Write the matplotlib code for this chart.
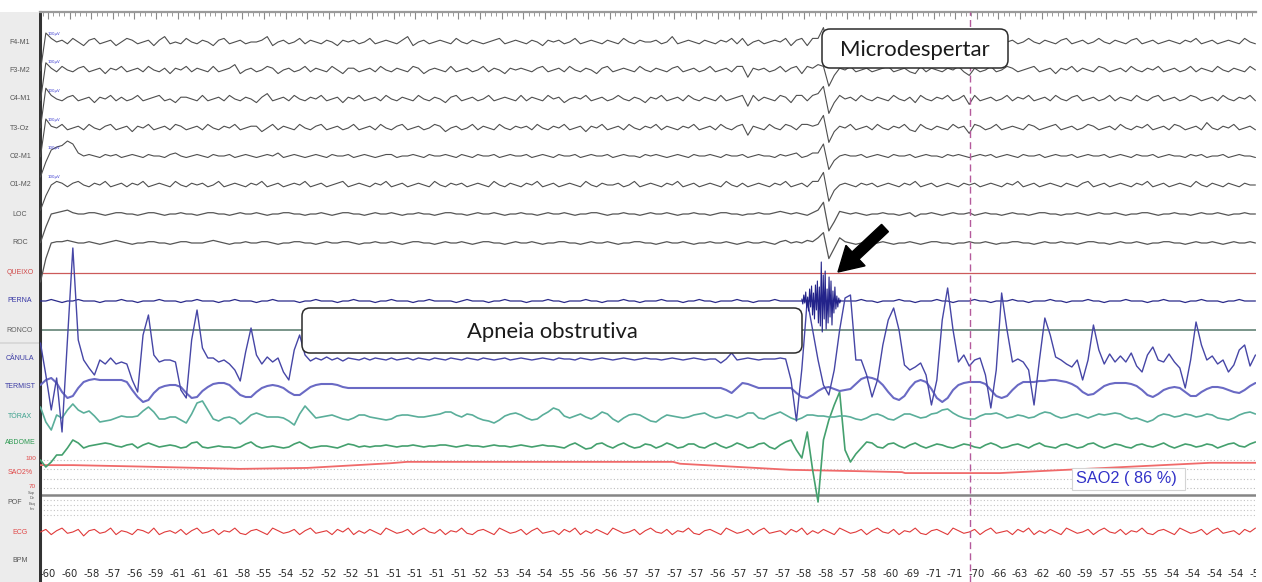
import numpy as np
import matplotlib
matplotlib.use("Agg")
import matplotlib.pyplot as plt
from matplotlib.patches import FancyBboxPatch, FancyArrow, Rectangle
from matplotlib.ticker import MultipleLocator

# ---------------------------------------------------------------------------
# Sampled traces: one value every DT seconds starting at T0 (deflection, px-like
# units, positive = upwards from the channel baseline)
# ---------------------------------------------------------------------------
T0 = -0.35
DT = 0.25

f4_m1 = [
    -16, 5, 2, 0, 1, -1, 2, 0, -2, 1,
    2, -1, 0, 1, -2, 0, 2, 1, -1, 0,
    1, -2, 1, 3, -1, 0, -1, 2, 0, -1,
    1, 0, -2, 1, 2, -1, 0, 1, -1, 0,
    0, 1, 3, -2, 0, 1, -1, 0, 2, -1,
    1, 0, -1, 1, 0, -2, 1, 0, 1, -1,
    0, 2, -1, 0, 1, 0, -1, 1, 3, -2,
    0, 1, -1, 0, 1, 0, -1, 2, 0, -1,
    1, 0, -1, 0, 1, 2, -1, 0, 1, 0,
    -1, 1, 0, -2, 1, 0, 1, -1, 0, 2,
    -1, 0, 1, 0, -1, 1, 0, -1, 2, 0,
    -1, 1, 0, 0, 1, -1, 0, 3, -1, 0,
    1, 0, -1, 1, 0, -1, 1, 0, 2, -1,
    2, -2, 0, 1, -1, 0, 1, 0, 2, -2,
    1, 2, -2, 2, 2, 8, -6, -2, 1, 0,
    1, -1, 0, 1, -1, 2, 0, -1, 1, 0,
    -1, 1, 0, 2, -1, 0, 1, -1, 0, 1,
    0, -1, 2, 0, -1, 1, 0, -2, 1, 0,
    1, -1, 0, 2, 0, -1, 1, 0, -1, 1,
    2, -1, 0, 1, -1, 0, 2, 0, -1, 1,
    0, -1, 1, 2, -1, 0, 1, -1, 0, 1,
    0, -1, 1, 0, 2, -1, 0, 1, -1, 0,
    1, 0, -1, 2, 0, -1]

f3_m2 = [
    -17, 4, 1, -1, 2, 0, -1, 1, 2, -1,
    0, 1, -2, 1, 0, 2, -1, 0, 1, -1,
    2, 0, -1, 1, -2, 1, 0, 2, -1, 1,
    0, -1, 2, -1, 0, 1, 3, -2, 0, 1,
    -1, 0, 2, 1, -2, 0, 1, -1, 0, 2,
    -1, 1, 0, -1, 2, 0, -2, 1, 1, -1,
    0, 1, -1, 2, 0, -1, 1, 0, -1, 2,
    1, -2, 0, 1, 0, -1, 2, -1, 0, 1,
    -1, 0, 2, -1, 1, 0, -2, 1, 0, 1,
    0, -1, 1, 2, -1, 0, 1, -1, 2, 0,
    -1, 1, 0, -2, 1, 2, -1, 0, 1, 0,
    -1, 2, 0, -1, 1, 0, -1, 1, 2, -1,
    0, 1, -1, 0, 2, -1, 0, 1, -1, 2,
    2, -4, 1, 0, 1, -1, 0, 2, -1, 1,
    2, -2, 2, 1, 3, 2, -9, -3, 1, 0,
    2, -1, 0, 1, -1, 0, 1, 2, -1, 0,
    1, -1, -2, 2, -1, 1, 0, -1, 1, 0,
    2, -1, -3, 1, -1, 0, 2, -1, 0, 2,
    1, -1, 0, 1, 2, -1, 0, 1, -2, 1,
    0, 2, -1, 1, 0, -1, 2, 1, -1, 0,
    1, -1, 2, 0, -1, 1, 0, 2, -1, 0,
    1, -1, 0, 2, -1, 1, 0, -1, 2, 0,
    -1, 1, 0, -1, 2, 0]

c4_m1 = [
    -16, 6, 2, 0, -1, 1, 2, -1, 0, 1,
    -2, 1, 0, 2, -1, 1, -1, 0, 2, -1,
    0, 1, 2, -1, 0, -2, 1, 1, 0, -1,
    2, -1, 0, 1, -1, 2, 0, -1, 1, 0,
    -2, 1, 3, -1, 0, 1, -1, 2, 0, -1,
    1, 0, 2, -1, 0, 1, -2, 1, 0, 2,
    -1, 0, 1, -1, 2, 0, -1, 1, 0, -1,
    2, 0, -1, 1, 0, -2, 1, 2, -1, 0,
    1, -1, 0, 2, -1, 0, 1, 0, -1, 2,
    -1, 1, 0, -1, 2, 0, 1, -2, 0, 1,
    0, 2, -1, 0, 1, -1, 0, 2, 0, -1,
    1, 0, -2, 1, 0, 2, -1, 0, 1, -1,
    2, 0, -1, 1, 0, -1, 2, -1, 0, 1,
    2, -4, 2, -1, 1, 0, -1, 2, 1, -2,
    2, 2, -1, 2, 3, 7, -8, -2, 2, 0,
    1, -1, 2, 0, -1, 1, 0, -1, 2, 0,
    -1, 1, -2, 2, 0, -1, 1, 0, 2, -1,
    0, 2, -3, 2, -1, 0, 1, -1, 0, 2,
    -1, 1, 0, 2, -1, 0, 1, -1, 2, 0,
    -1, 1, 2, -1, 0, 1, -1, 0, 2, -1,
    1, 0, -1, 2, 0, -1, 1, 2, -1, 0,
    1, -1, 0, 2, 1, -1, 0, 1, -1, 2,
    0, -1, 1, 0, 2, -1]

t3_oz = [
    -16, 5, 1, 0, 2, -1, 0, 1, -1, 2,
    0, -1, 1, 2, -1, 0, 1, -2, 1, 0,
    2, -1, 0, 1, -1, 2, 1, -1, 0, 1,
    -1, 2, 0, -1, 1, 0, 2, -1, 0, 1,
    1, -2, 0, 2, -1, 1, 0, -1, 2, 0,
    -1, 1, 2, -1, 0, 1, -1, 0, 2, -1,
    0, 1, -1, 2, 0, -1, 1, 2, -1, 0,
    1, -1, 0, 2, 1, -2, 0, 1, -1, 0,
    2, -1, 1, 0, -1, 2, 0, -1, 1, 0,
    1, -1, 2, 0, -1, 1, 0, 2, -1, 0,
    1, -2, 1, 0, 2, -1, 0, 1, -1, 2,
    0, -1, 1, 0, 2, -1, 1, 0, -1, 1,
    0, 2, -1, 0, 1, -1, 2, 0, -1, 1,
    2, -4, 1, 0, -1, 2, 0, -1, 2, 1,
    -1, 2, 2, 1, 2, 7, -8, -2, 1, 0,
    2, -1, 0, 1, -1, 2, 0, -1, 1, 0,
    2, -1, -2, 2, 0, -1, 1, 0, -1, 2,
    0, 1, -3, 2, 1, -1, 0, 2, -1, 0,
    1, 0, -1, 2, 1, -1, 0, 1, 2, -1,
    0, 1, -1, 0, 2, 1, -1, 0, 1, -1,
    2, 0, -1, 1, 0, 2, -1, 0, 1, -1,
    2, 1, -1, 0, 1, -1, 3, 0, -1, 1,
    0, 2, -1, 0, 1, -1]

o2_m1 = [
    -14, -4, 4, 6, 7, 10, 8, 2, 0, 1,
    0, -1, 1, 0, 1, -1, 0, 1, 0, -1,
    1, 0, 0, -1, 1, 2, 0, -1, 0, 1,
    0, -1, 1, 0, 0, 1, -1, 0, 1, 0,
    -1, 0, 1, 0, 2, -1, 0, 1, 0, -1,
    0, 1, 0, -1, 1, 0, 0, 1, -1, 0,
    1, 0, -1, 0, 1, 1, -1, 0, 0, 1,
    0, -1, 1, 0, 0, 1, 0, -1, 1, 0,
    -1, 1, 0, 0, 1, -1, 0, 1, 0, 0,
    1, -1, 0, 1, 0, -1, 1, 0, 0, 1,
    -1, 0, 1, 0, 0, 1, -1, 0, 1, 0,
    0, -1, 1, 0, 1, 0, -1, 0, 1, 0,
    -1, 1, 0, 0, 1, 0, -1, 1, 0, 0,
    1, -1, 0, 1, 0, 0, -1, 1, 0, 1,
    2, -1, 0, 2, 2, 8, -9, -3, 0, 1,
    0, 0, 1, -1, 0, 1, 0, -1, 1, 0,
    0, 1, -1, 0, 1, 0, 0, -1, 1, 0,
    1, 0, -1, 0, 1, 0, 1, -1, 0, 1,
    0, -1, 1, 0, 0, 1, -1, 0, 1, 0,
    0, 1, -1, 0, 1, 0, 0, 1, -1, 0,
    1, 0, -1, 1, 0, 0, 1, -1, 0, 1,
    0, 0, -1, 1, 0, 1, -1, 0, 0, 1,
    -1, 0, 1, 0, 0, -1]

o1_m2 = [
    -14, -6, 0, 2, 1, -1, 1, 2, 0, -1,
    1, 0, 2, -1, 0, 1, -1, 1, 0, 2,
    -1, 0, 1, 0, -1, 2, 0, -1, 1, 0,
    1, -1, 0, 2, -1, 0, 1, 0, -1, 1,
    0, 2, -1, 0, 1, -1, 0, 1, 0, 2,
    -1, 0, 1, -1, 0, 1, 2, -1, 0, 1,
    0, -1, 1, 0, 2, -1, 0, 1, -1, 0,
    1, 0, -1, 2, 0, -1, 1, 0, 1, -1,
    0, 1, 0, -1, 2, 0, -1, 1, 0, -1,
    1, 0, 2, -1, 0, 1, -1, 0, 1, 0,
    -1, 2, 0, -1, 1, 0, 0, 1, -1, 0,
    2, -1, 0, 1, 0, -1, 1, 0, 2, -1,
    0, 1, -1, 0, 1, 0, -1, 2, 0, -1,
    1, -1, 0, 1, 0, -1, 1, 0, 2, -1,
    0, 1, -1, 2, 2, 7, -9, -3, 0, 1,
    0, -1, 1, 0, 1, -1, 0, 1, 0, -1,
    1, 0, 2, -1, 0, 1, -1, 0, 1, 0,
    -1, 1, 0, 1, -1, 0, 1, 0, -1, 1,
    0, 2, -1, 0, 1, -1, 0, 1, 0, -1,
    1, 0, -1, 1, 2, -1, 0, 1, -1, 0,
    1, 0, -1, 1, 0, 2, -1, 0, 1, -1,
    0, 1, 0, -1, 2, 0, -1, 1, 0, -1,
    1, 0, -1, 1, 0, 0]

loc = [
    -22, -10, 0, 1, 2, 3, 1, 0, 0, 1,
    1, 0, -1, 0, 1, 1, 0, 0, -1, 0,
    1, 1, 0, -1, 0, 0, 1, 0, 0, -1,
    0, 1, 1, 0, 0, -1, 0, 1, 0, 0,
    1, 0, -1, 0, 0, 1, 1, 0, 0, -1,
    0, 0, 1, 0, -1, 0, 1, 1, 0, 0,
    -1, 0, 1, 0, 0, 1, 0, -1, 0, 0,
    1, 0, 0, -1, 0, 1, 1, 0, 0, -1,
    0, 1, 0, 0, 1, 0, -1, 0, 0, 1,
    0, 0, -1, 0, 1, 0, 0, 1, 0, -1,
    0, 0, 1, 1, 0, -1, 0, 0, 1, 0,
    0, -1, 0, 1, 0, 0, 1, 0, -1, 0,
    0, 1, 0, 0, -1, 0, 1, 1, 0, 0,
    -1, 0, 0, 1, 0, 0, 1, 2, 1, 0,
    1, 0, -1, 1, 3, 9, -13, -6, 2, 1,
    0, 1, 0, -1, 0, 0, 1, 0, 0, -1,
    0, 1, -2, 0, 0, 1, 0, -1, 0, 1,
    0, 0, 1, -1, 0, 1, 0, 0, -1, 0,
    1, 0, 0, -1, 0, 1, 1, 0, 0, -1,
    0, 0, 1, 0, -1, 0, 1, 0, 0, 1,
    0, -1, 0, 0, 1, 1, 0, -1, 0, 0,
    1, 0, 0, -1, 0, 1, 0, 0, 1, 0,
    -1, 0, 0, 1, 0, 0]

roc = [
    -30, -12, 0, 1, 1, 2, 1, 0, 0, 1,
    0, -1, 0, 1, 2, 1, 0, -1, 0, 0,
    1, 1, 0, 0, -1, 0, 1, 1, 0, 0,
    0, 1, 2, 1, 0, -1, 0, 0, 1, 0,
    0, 1, 1, 0, -1, 0, 0, 1, 1, 0,
    0, -1, 0, 1, 0, 0, 1, 1, 0, -1,
    0, 0, 1, 0, 0, 1, 0, -1, 0, 1,
    1, 0, 0, -1, 0, 1, 0, 0, 1, 0,
    -1, 0, 1, 1, 0, 0, -1, 0, 1, 0,
    0, 1, 0, -1, 0, 0, 1, 1, 0, 0,
    -1, 0, 1, 0, 0, 1, 0, -1, 0, 0,
    1, 1, 0, 0, -1, 0, 1, 0, 0, 1,
    0, -1, 0, 0, 1, 0, 0, 1, 0, -1,
    0, 1, 0, 0, 1, 0, -1, 1, 2, 0,
    1, 0, 2, 1, 4, 8, -12, -4, 4, 1,
    0, -1, 0, 1, 0, 0, 1, 0, -1, 0,
    0, 1, 0, -1, 0, 1, 1, 0, 0, -1,
    0, 0, 1, 0, 0, 1, 0, -1, 0, 0,
    1, 1, 0, 0, -1, 0, 1, 0, 0, 1,
    0, 0, -1, 0, 1, 1, 0, 0, -1, 0,
    1, 0, 0, 1, 0, -1, 0, 0, 1, 1,
    0, 0, -1, 0, 1, 0, 0, 1, 0, -1,
    0, 1, 0, 0, 1, 0]

perna = [
    0, 0, 1, 0, -1, 0, 0, 1, 0, 0,
    0, -1, 0, 0, 0, 1, 0, 0, -1, 0,
    0, 0, 1, 0, 0, 0, -1, 0, 0, 1,
    0, 0, 0, -1, 0, 0, 1, 0, 0, 0,
    -1, 0, 0, 1, 0, 0, 0, 0, -1, 0,
    0, 1, 0, 0, 0, -1, 0, 0, 1, 0,
    0, 0, -1, 0, 0, 1, 0, 0, 0, -1,
    0, 0, 1, 0, 0, 0, 0, -1, 0, 1,
    0, 0, 0, -1, 0, 0, 1, 0, 0, 0,
    -1, 0, 0, 0, 1, 0, 0, -1, 0, 0,
    0, 1, 0, 0, -1, 0, 0, 0, 1, 0,
    0, -1, 0, 0, 0, 1, 0, 0, 0, -1,
    0, 0, 1, 0, 0, -1, 0, 0, 0, 1,
    0, 0, -1, 0, 0, 0, 1, 0, 0, 0,
    0, 0, 0, 0, 0, 0, 0, 0, 0, 0,
    0, 0, 1, 0, 0, -1, 0, 0, 0, 1,
    0, 0, -1, 0, 0, 0, 1, 0, 0, -1,
    0, 0, 0, 1, 0, 0, -1, 0, 0, 0,
    1, 0, 0, -1, 0, 0, 0, 1, 0, 0,
    -1, 0, 0, 0, 1, 0, 0, -1, 0, 0,
    0, 1, 0, 0, 0, -1, 0, 0, 1, 0,
    0, 0, -1, 0, 0, 1, 0, 0, 0, -1,
    0, 0, 1, 0, 0, 0]

# leg EMG burst during the arousal, finer sampling
BURST_T0 = 34.9
BURST_DT = 0.045
perna_burst = [2, -3, 6, -2, 9, -7, 4, -10, 12, -6, 15, -14, 8, -18, 16,
               -9, 20, -22, 14, -25, 39, -31, 26, -18, 30, -28, 12, -22, 24,
               -16, 20, -24, 10, -12, 14, -8, 5, -6, 3, -2, 1]

canula = [
    16, -16, -51, -19, -73, 19, 111, 19, -1, -9,
    -16, -1, -5, 1, -5, -3, -5, -21, -33, 24,
    44, 4, -3, -1, -1, -3, -31, -39, 19, 49,
    11, 1, 1, -3, -1, -5, -11, -22, 7, 31,
    4, -5, 2, -3, 1, -13, -21, 9, 24, 4,
    -2, 1, -1, 2, -1, 1, -2, 1, 0, -1,
    1, -1, 1, 0, -1, 1, -1, 0, 1, -1,
    1, 0, -1, 1, 0, -1, 1, 0, -1, 1,
    0, -1, 1, 0, -1, 0, 1, -1, 0, 1,
    0, -1, 0, 1, 0, -1, 1, 0, 0, -1,
    1, 0, -1, 0, 1, 0, -1, 0, 1, 0,
    -1, 0, 1, 0, 0, -1, 0, 1, 0, -1,
    0, 1, 0, -1, 0, 0, -4, 0, 6, -1,
    0, 1, 0, -1, 0, 0, 0, 1, 0, -21,
    -62, -10, 59, 29, -1, -26, -36, -11, 29, 61,
    64, -1, -1, -16, -38, -21, 14, 39, 51, 29,
    -6, -11, -8, -4, -16, -46, -21, 39, 71, 29,
    -3, 4, -7, -1, 1, -16, -49, -11, 66, 29,
    -3, 0, -3, -11, -46, -1, 41, 24, 2, -1,
    -5, -8, -1, -21, -1, 34, 9, -5, 5, -3,
    3, -3, 6, -7, -13, 4, 12, -1, -3, 5,
    -3, -9, -29, -1, 37, 14, -1, 3, -5, -1,
    -13, -6, 9, 14, -7, 4]

termist = [
    3, 8, 10, 5, -4, -10, -8, 0, 6, 8,
    9, 8, 8, 8, 8, 8, 6, -2, -9, -14,
    -12, -5, 0, 2, 3, 3, 1, -5, -10, -9,
    -3, 1, 4, 5, 5, 3, -2, -7, -9, -9,
    -4, 0, 2, 3, 2, 0, -4, -7, -7, -3,
    1, 3, 4, 4, 4, 3, 1, 0, 0, 0,
    0, 0, 0, 0, 0, 0, 0, 0, 0, 0,
    0, 0, 0, 0, 0, 0, 0, 0, 0, 0,
    0, 0, 0, 0, 0, 0, 0, 0, 0, 0,
    0, 0, 0, 0, 0, 0, 0, 0, 0, 0,
    0, 0, 0, 0, 0, 0, 0, 0, 0, 0,
    0, 0, 0, 0, 0, 0, 0, 0, 0, 0,
    0, 0, 0, 0, 0, 0, 0, -2, -5, 0,
    5, 4, 2, 0, 0, 0, 0, 0, 0, 0,
    -5, -9, -10, -7, -3, 0, 1, -1, -3, -2,
    -1, 4, 9, 11, 10, 8, 3, -4, -10, -12,
    -8, 0, 6, 8, 6, -1, -10, -14, -10, -2,
    3, 5, 6, 6, 6, 4, -2, -8, -10, -8,
    -2, 3, 6, 6, 6, 7, 7, 8, 8, 7,
    6, 4, 1, -4, -7, -6, -2, 2, 4, 5,
    5, 5, 4, 2, -2, -7, -9, -6, -2, 0,
    1, 0, -4, -8, -8, -4, -1, 1, 1, 0,
    -2, -4, -5, -2, 2, 5]

torax = [
    9, -6, -14, 1, -2, 6, 12, 6, 3, 5,
    0, -6, -5, -4, -2, 0, -1, -1, 0, 5,
    9, 4, -3, -3, -1, -1, -4, -7, 2, 13,
    15, 6, -3, -5, -2, -1, -3, -8, -4, 1,
    3, 1, -1, -1, -1, -2, -5, -9, 2, 10,
    4, -2, -1, 0, 1, -1, -3, -4, -2, 1,
    1, -1, -2, -3, -4, -3, 0, 1, 1, 0,
    -1, -1, 0, 1, 2, 4, 4, 1, -1, 2,
    1, -2, -4, -5, -7, -4, 0, 2, 3, 1,
    -2, -4, -3, 1, 4, 8, 6, 0, -2, 0,
    2, -1, -3, 0, 4, 2, -3, -6, -2, 1,
    2, 1, -2, -5, -6, -2, 1, 0, -1, -2,
    -1, 1, 2, 3, 0, -2, -1, 1, 0, -2,
    0, 3, 3, -2, -3, 0, 2, 4, 1, -2,
    -4, -2, 1, 1, 0, 0, -1, -1, 0, 0,
    -1, -3, -4, -2, 1, 2, 0, -3, -4, -1,
    2, 2, 0, -2, -1, 2, 3, 6, 7, 3,
    0, -2, -3, -3, 0, 2, 2, 3, 1, -2,
    -1, 1, 0, -2, -1, 2, 4, 3, 0, -2,
    -1, 1, 2, 0, -2, 0, 2, 1, 2, 3,
    2, -1, -3, -2, -4, -6, -4, 0, 2, 1,
    -1, 0, 2, 1, -1, 0, 2, 1, -2, -3,
    -4, -2, 1, 3, 4, 2]

abdome = [
    -14, -21, -16, -9, -9, -2, 6, 3, -2, 0,
    1, 2, 3, 2, 0, -1, 1, 2, -2, 1,
    3, 1, -1, 0, 1, 0, -2, -1, 3, 4,
    -1, -2, -1, 0, -1, -1, -2, -1, 2, 4,
    0, -2, -1, 0, -1, -2, -1, 2, 4, 1,
    -2, -1, 0, 0, -1, -2, 0, 2, 1, -1,
    0, -1, 0, 0, 1, 0, -1, 0, 0, 1,
    0, -1, 0, 0, 1, 1, 0, -1, 0, 1,
    0, 0, -1, 0, 1, 0, 0, -1, 0, 1,
    0, -1, 0, 1, 0, 0, -1, -2, 1, 3,
    0, -3, -2, 2, 3, 0, -2, 1, 3, 0,
    -2, -1, 2, 1, -2, 0, 3, 1, -2, -1,
    2, 2, -1, -2, 1, 3, 0, -2, 0, 3,
    1, -2, -1, 2, 3, -1, -3, 1, 4, 6,
    -4, -12, 14, -24, -56, 6, 26, 41, 54, -4,
    -16, -8, -2, 4, 3, -1, -2, 2, 3, 0,
    -2, 1, 3, 0, -2, 0, 2, 1, -1, -2,
    0, 2, 1, -1, -2, 1, 3, 1, -2, -1,
    1, 2, 0, -2, 1, 3, 0, -1, -2, 1,
    2, 0, -2, -1, 2, 3, 0, -2, 0, 2,
    1, -1, -2, 1, 2, 0, -1, 1, 3, 0,
    -2, 0, 2, 1, -1, 0, 2, 1, -2, 0,
    2, 3, 0, -1, 2, 4]

ecg = [
    0, 2, -2, 1, 3, -1, 0, 2, -3, 1,
    2, -1, 0, 3, -2, 1, 0, -2, 2, 1,
    -1, 3, -2, 0, 1, -1, 2, -2, 1, 3,
    -1, 0, 2, -2, 1, 0, 3, -1, -2, 1,
    2, 0, -2, 3, 1, -1, 0, 2, -2, 1,
    3, -1, 0, 1, -2, 2, 0, 3, -2, 1,
    -1, 2, 0, -2, 3, 1, -1, 0, 2, -2,
    1, 3, 0, -1, 2, -2, 1, 0, 3, -1,
    -2, 1, 2, 0, -2, 3, 1, -1, 0, 2,
    -2, 1, 3, -1, 0, 1, -2, 2, 0, 3,
    -2, 1, -1, 2, 0, -2, 3, 1, -1, 0,
    2, -2, 1, 3, 0, -1, 2, -2, 1, 0,
    3, -1, -2, 1, 2, 0, -2, 3, 1, -1,
    0, 2, -2, 1, 3, -1, 0, 1, -2, 2,
    0, 3, -2, 1, -1, 2, 0, -2, 3, 1,
    -1, 0, 2, -2, 1, 3, 0, -1, 2, -2,
    1, 0, 3, -1, -2, 1, 2, 0, -2, 3,
    1, -1, 0, 2, -2, 1, 3, -1, 0, 1,
    -2, 2, 0, 3, -2, 1, -1, 2, 0, -2,
    3, 1, -1, 0, 2, -2, 1, 3, 0, -1,
    2, -2, 1, 0, 3, -1, -2, 1, 2, 0,
    -2, 3, 1, -1, 0, 2, -2, 1, 3, -1,
    0, 1, -2, 2, 0, 3]

# Oxygen saturation (%), sampled at the times where the trend changes
sao2_t = [-0.37, 1.16, 4.26, 8.89, 11.99, 13.52, 15.83, 16.62, 28.94, 29.26,
          34.35, 37.59, 39.54, 39.68, 44.07, 53.8, 55.93]
sao2_pct = [94.5, 94.5, 93, 90.5, 91.5, 93.5, 96.5, 98, 98, 96,
            89.5, 88, 87, 86, 86, 97, 97]

# Heart-rate readout, one per second
bpm = [-60, -60, -58, -57, -56, -59, -61, -61, -61, -58, -55, -54, -52, -52,
       -52, -51, -51, -51, -51, -51, -52, -53, -54, -54, -55, -56, -56, -57,
       -57, -57, -57, -56, -57, -57, -57, -58, -58, -57, -58, -60, -69, -71,
       -71, -70, -66, -63, -62, -60, -59, -57, -55, -55, -54, -54, -54, -54,
       -54]

channel_names = ["F4-M1", "F3-M2", "C4-M1", "T3-Oz", "O2-M1", "O1-M2", "LOC",
                 "ROC", "QUEIXO", "PERNA", "RONCO", "CÂNULA", "TERMIST",
                 "TÓRAX", "ABDOME", "SAO2%", "POF", "ECG", "BPM"]

CURSOR_T = 42.7

# ---------------------------------------------------------------------------
# Layout (pixel rows of the channel baselines, figure is 1262 x 582 px)
# ---------------------------------------------------------------------------
W, H = 1262, 582
ROWS = {"F4-M1": 42, "F3-M2": 70, "C4-M1": 99, "T3-Oz": 128, "O2-M1": 156,
        "O1-M2": 185, "LOC": 214, "ROC": 243, "QUEIXO": 273, "PERNA": 301,
        "RONCO": 330, "CÂNULA": 359, "TERMIST": 388, "TÓRAX": 416,
        "ABDOME": 446, "SAO2%": 473, "POF": 503, "ECG": 532, "BPM": 561}
LABEL_Y = {"CÂNULA": 359, "TERMIST": 387, "TÓRAX": 416, "ABDOME": 443,
           "SAO2%": 473, "BPM": 561}
EEG_GAIN = {"F4-M1": 1.8, "F3-M2": 1.8, "C4-M1": 1.8, "T3-Oz": 1.8,
            "O2-M1": 1.5, "O1-M2": 1.8}
SAO2_TOP, SAO2_PX = 460.0, 28.0 / 30.0
X_LEFT, X_RIGHT, Y_TOP = 40, 1256, 12
PX_PER_S = 21.6
T_MIN = (X_LEFT - 48) / PX_PER_S
T_MAX = (X_RIGHT - 48) / PX_PER_S

fig = plt.figure(figsize=(W / 100, H / 100), dpi=100)
fig.patch.set_facecolor("white")

ax = fig.add_axes([X_LEFT / W, 0, (X_RIGHT - X_LEFT) / W, (H - Y_TOP) / H])
ax.set_xlim(T_MIN, T_MAX)
ax.set_ylim(H, Y_TOP)
ax.set_facecolor("white")
for s in ("right", "bottom"):
    ax.spines[s].set_visible(False)
ax.spines["left"].set_color("#333333")
ax.spines["left"].set_linewidth(2.2)
ax.spines["top"].set_color("#9a9a9a")
ax.spines["top"].set_linewidth(1.6)
ax.xaxis.set_major_locator(MultipleLocator(1))
ax.xaxis.set_minor_locator(MultipleLocator(0.25))
ax.tick_params(axis="x", which="both", top=True, bottom=False,
               labeltop=False, labelbottom=False, direction="in",
               color="#8a8a8a")
ax.tick_params(axis="x", which="major", length=5, width=0.8)
ax.tick_params(axis="x", which="minor", length=3, width=0.6)
ax.tick_params(axis="y", left=False, labelleft=False)


def draw(vals, row, color, lw, gain=1.0, t0=T0, dt=DT, z=3):
    v = np.asarray(vals, dtype=float)
    t = t0 + dt * np.arange(v.size)
    ax.plot(t, row - gain * v, color=color, lw=lw, zorder=z,
            solid_joinstyle="round", solid_capstyle="round")


EEG_GREY = "#4e4e4e"
for name, vals in zip(["F4-M1", "F3-M2", "C4-M1", "T3-Oz", "O2-M1", "O1-M2"],
                      [f4_m1, f3_m2, c4_m1, t3_oz, o2_m1, o1_m2]):
    draw(vals, ROWS[name], EEG_GREY, 0.8, gain=EEG_GAIN[name])
    ax.text(0.0, ROWS[name] - 8, "100µV", fontsize=2.8, color="#3a3ad0",
            ha="left", va="center", zorder=4)
draw(loc, ROWS["LOC"], "#555555", 0.9, gain=1.3)
draw(roc, ROWS["ROC"], "#555555", 0.9, gain=1.3)

# chin EMG and snoring are flat baselines in this epoch
ax.axhline(ROWS["QUEIXO"], color="#cc5a5a", lw=0.9, zorder=2)
ax.axhline(ROWS["RONCO"], color="#6e8c80", lw=1.3, zorder=2)

draw(perna, ROWS["PERNA"], "#2a2a8a", 0.9, gain=1.5)
draw(perna_burst, ROWS["PERNA"], "#23238a", 0.8, t0=BURST_T0, dt=BURST_DT,
     z=5)

# SpO2 and body-position grid
for gy in [SAO2_TOP + k * 10 * SAO2_PX for k in range(4)]:
    ax.axhline(gy, color="#bdbdbd", lw=0.8, ls=(0, (1, 2)), zorder=1)
for gy in [500, 505, 510, 515]:
    ax.axhline(gy, color="#c4c4c4", lw=0.8, ls=(0, (1, 2)), zorder=1)
ax.axhline(495, color="#858585", lw=1.8, zorder=2)

sao2_y = SAO2_TOP + (100 - np.asarray(sao2_pct)) * SAO2_PX
ax.plot(sao2_t, sao2_y, color="#f06a6a", lw=1.3, zorder=3)

draw(abdome, ROWS["ABDOME"], "#44a06e", 1.2)
draw(torax, ROWS["TÓRAX"], "#5aae9a", 1.2)
draw(termist, ROWS["TERMIST"], "#6a6ac4", 1.5)
draw(canula, ROWS["CÂNULA"], "#4646a6", 1.0, z=4)
draw(ecg, ROWS["ECG"], "#e03a3a", 0.8, gain=1.3)

ax.axvline(CURSOR_T, color="#b45a9c", lw=1.0, ls=(0, (5, 3)), zorder=6)

for i, v in enumerate(bpm):
    ax.text(i, 574, str(v), ha="center", va="center", fontsize=7.2,
            family=["Liberation Sans Narrow", "DejaVu Sans"],
            color="#2a2a2a", clip_on=True)

# ---------------------------------------------------------------------------
# channel label column
# ---------------------------------------------------------------------------
lp = fig.add_axes([0, 0, (X_LEFT - 1) / W, (H - Y_TOP) / H])
lp.set_xlim(0, X_LEFT - 1)
lp.set_ylim(H, Y_TOP)
lp.set_facecolor("#ececec")
for s in lp.spines.values():
    s.set_visible(False)
lp.set_xticks([])
lp.set_yticks([])
lp.axhline(343, color="#d6d6d6", lw=1.2)

label_colors = {"QUEIXO": "#d04848", "PERNA": "#3434a4", "RONCO": "#5f5f5f",
                "CÂNULA": "#3a3aa4", "TERMIST": "#3a3aa4",
                "TÓRAX": "#3aa08c", "ABDOME": "#2e9a52", "SAO2%": "#e04848",
                "ECG": "#e04848"}
for name in channel_names:
    y = LABEL_Y.get(name, ROWS[name])
    x = 20
    if name == "POF":
        x = 15
    lp.text(x, y, name, ha="center", va="center", fontsize=5,
            family="Liberation Sans", color=label_colors.get(name, "#555555"))
lp.text(36, 459, "100", ha="right", va="center", fontsize=4.6,
        family="Liberation Sans", color="#e04848")
lp.text(36, 487, "70", ha="right", va="center", fontsize=4.6,
        family="Liberation Sans", color="#e04848")
for yy, s in zip([493, 498, 504, 509], ["Sup", "Dir", "Esq", "Inv"]):
    lp.text(35, yy, s, ha="right", va="center", fontsize=2.8,
            family="Liberation Sans", color="#555555")

# ---------------------------------------------------------------------------
# annotations (pixel coordinates on a transparent overlay)
# ---------------------------------------------------------------------------
ov = fig.add_axes([0, 0, 1, 1], zorder=10)
ov.set_xlim(0, W)
ov.set_ylim(H, 0)
ov.axis("off")

ov.add_patch(FancyBboxPatch((822, 29), 186, 39,
                            boxstyle="round,pad=0,rounding_size=8",
                            fc="white", ec="#2b2b2b", lw=1.1))
ov.text(915, 56.5, "Microdespertar", ha="center", va="baseline",
        fontsize=15.9, family="Lato", color="#1a1a1a")

ov.add_patch(FancyBboxPatch((302, 308), 500, 45,
                            boxstyle="round,pad=0,rounding_size=8",
                            fc="white", ec="#2b2b2b", lw=1.1))
ov.text(552, 338, "Apneia obstrutiva", ha="center", va="baseline",
        fontsize=15.8, family="Lato", color="#1a1a1a")

ov.add_patch(FancyArrow(885, 228, -47, 44, width=10, head_width=28,
                        head_length=24, length_includes_head=True,
                        fc="black", ec="black"))

sao2_now = float(np.interp(CURSOR_T, sao2_t, sao2_pct))
ov.add_patch(Rectangle((1072, 468), 113, 22, fc="white", ec="#d4d4d4",
                       lw=0.8))
ov.text(1076, 479, f"SAO2 ( {sao2_now:.0f} %)", ha="left", va="center",
        fontsize=11.7, family="Liberation Sans", color="#3232c8")

fig.savefig("out.png", dpi=100, facecolor="white")
